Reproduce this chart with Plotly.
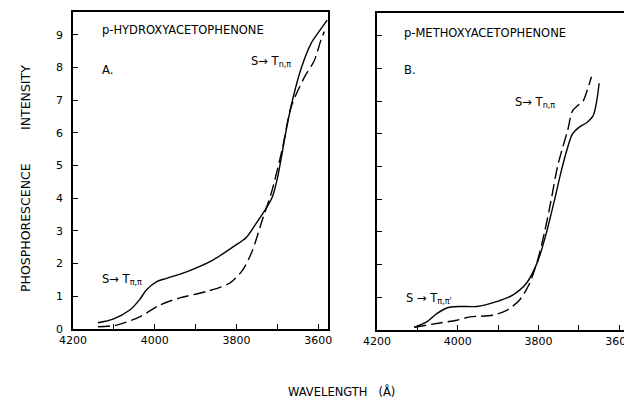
import plotly.graph_objects as go

# Panel A: p-hydroxyacetophenone
a_solid_wl = [4139, 4102, 4061, 4037, 4020, 3995, 3971, 3922, 3859, 3810, 3776, 3751, 3727, 3712, 3700, 3688, 3675, 3663, 3641, 3617, 3598, 3578]
a_solid_i = [0.19, 0.3, 0.58, 0.9, 1.2, 1.45, 1.55, 1.75, 2.1, 2.5, 2.8, 3.25, 3.7, 4.05, 4.6, 5.4, 6.3, 7.0, 8.0, 8.75, 9.1, 9.45]
a_dash_wl = [4139, 4093, 4037, 3988, 3939, 3873, 3817, 3785, 3761, 3737, 3715, 3688, 3666, 3634, 3610, 3593, 3585]
a_dash_i = [0.07, 0.12, 0.37, 0.73, 0.95, 1.15, 1.4, 1.8, 2.4, 3.33, 4.15, 5.5, 6.8, 7.7, 8.2, 8.85, 9.1]

# Panel B: p-methoxyacetophenone
b_solid_wl = [4108, 4077, 4052, 4025, 3995, 3953, 3904, 3864, 3830, 3802, 3780, 3760, 3745, 3730, 3716, 3700, 3680, 3665, 3656, 3650]
b_solid_i = [0.08, 0.25, 0.5, 0.68, 0.72, 0.72, 0.87, 1.07, 1.43, 2.1, 3.0, 4.0, 4.8, 5.5, 6.0, 6.2, 6.35, 6.55, 7.0, 7.55]
b_dash_wl = [4108, 4052, 4002, 3970, 3914, 3879, 3847, 3822, 3802, 3785, 3770, 3753, 3740, 3728, 3716, 3700, 3690, 3679, 3669]
b_dash_i = [0.08, 0.2, 0.3, 0.4, 0.45, 0.6, 0.92, 1.43, 2.15, 3.0, 3.9, 5.0, 5.6, 6.1, 6.7, 6.9, 7.0, 7.35, 7.75]

x_tickvals = [4200, 4100, 4000, 3900, 3800, 3700, 3600]
x_ticktext = ["4200", "", "4000", "", "3800", "", "3600"]
y_tickvals = [0, 1, 2, 3, 4, 5, 6, 7, 8, 9]
y_ticktext_a = ["0", "1", "2", "3", "4", "5", "6", "7", "8", "9"]

FONT = "DejaVu Sans"
W, H = 632, 404
OFF = 8  # page body margin
FW, FH = W - OFF, H - OFF

fig = go.Figure()
line_solid = dict(color="black", width=1.4, shape="spline", smoothing=0.8)
line_dash = dict(color="black", width=1.4, dash="12px,5px", shape="spline", smoothing=0.8)

fig.add_trace(go.Scatter(x=a_solid_wl, y=a_solid_i, mode="lines", line=line_solid, xaxis="x", yaxis="y", showlegend=False))
fig.add_trace(go.Scatter(x=a_dash_wl, y=a_dash_i, mode="lines", line=line_dash, xaxis="x", yaxis="y", showlegend=False))
fig.add_trace(go.Scatter(x=b_solid_wl, y=b_solid_i, mode="lines", line=line_solid, xaxis="x2", yaxis="y2", showlegend=False))
fig.add_trace(go.Scatter(x=b_dash_wl, y=b_dash_i, mode="lines", line=line_dash, xaxis="x2", yaxis="y2", showlegend=False))

def px_x(p):
    return (p - OFF) / FW

def px_y(p):
    return 1 - (p - OFF) / FH

axis_common = dict(showline=True, linecolor="black", linewidth=1.5, mirror=True,
                   ticks="inside", ticklen=5, tickwidth=1.2, tickcolor="black",
                   showgrid=False, zeroline=False, automargin=False,
                   tickfont=dict(family=FONT, size=11, color="black"))

xr = [4200, 3576]
yr = [0, 9.7]
fig.update_layout(
    width=FW, height=FH,
    margin=dict(l=0, r=0, t=0, b=0),
    paper_bgcolor="white", plot_bgcolor="white",
    xaxis=dict(domain=[px_x(73), px_x(328)], range=xr, tickvals=x_tickvals, ticktext=x_ticktext, anchor="y",
               ticklabeloverflow="allow", **axis_common),
    yaxis=dict(domain=[px_y(329), px_y(12)], range=yr, tickvals=y_tickvals, ticktext=y_ticktext_a, anchor="x",
               ticklabelstandoff=6, **axis_common),
    xaxis2=dict(domain=[px_x(377), px_x(629)], range=xr, tickvals=x_tickvals, ticktext=x_ticktext, anchor="y2",
                ticklabeloverflow="allow", **axis_common),
    yaxis2=dict(domain=[px_y(330), px_y(13)], range=yr, tickvals=y_tickvals, showticklabels=False, anchor="x2", **axis_common),
)

tf = dict(family=FONT, size=11.5, color="black")
tt = dict(family=FONT, size=12.5, color="black")
ann = [
    dict(text="p-HYDROXYACETOPHENONE", x=px_x(100), y=px_y(30), xanchor="left", yanchor="middle", font=tf),
    dict(text="A.", x=px_x(100), y=px_y(70), xanchor="left", yanchor="middle", font=tf),
    dict(text="S→ T<sub>n,π</sub>", x=px_x(249), y=px_y(62), xanchor="left", yanchor="middle", font=tf),
    dict(text="S→ T<sub>π,π</sub>", x=px_x(100), y=px_y(279), xanchor="left", yanchor="middle", font=tf),
    dict(text="p-METHOXYACETOPHENONE", x=px_x(402), y=px_y(33), xanchor="left", yanchor="middle", font=tf),
    dict(text="B.", x=px_x(402), y=px_y(70), xanchor="left", yanchor="middle", font=tf),
    dict(text="S→ T<sub>n,π</sub>", x=px_x(513), y=px_y(103), xanchor="left", yanchor="middle", font=tf),
    dict(text="S → T<sub>π,π'</sub>", x=px_x(404), y=px_y(298), xanchor="left", yanchor="middle", font=tf),
    dict(text="WAVELENGTH &nbsp;&nbsp;(Å)", x=px_x(341), y=px_y(391), xanchor="center", yanchor="middle", font=tf),
    dict(text="INTENSITY", x=px_x(25), y=px_y(98), textangle=-90, xanchor="center", yanchor="middle", font=tt),
    dict(text="PHOSPHORESCENCE", x=px_x(25), y=px_y(228), textangle=-90, xanchor="center", yanchor="middle", font=tt),
]
for a in ann:
    a.update(xref="paper", yref="paper", showarrow=False)
fig.update_layout(annotations=ann)

fig.write_html("out.html")
